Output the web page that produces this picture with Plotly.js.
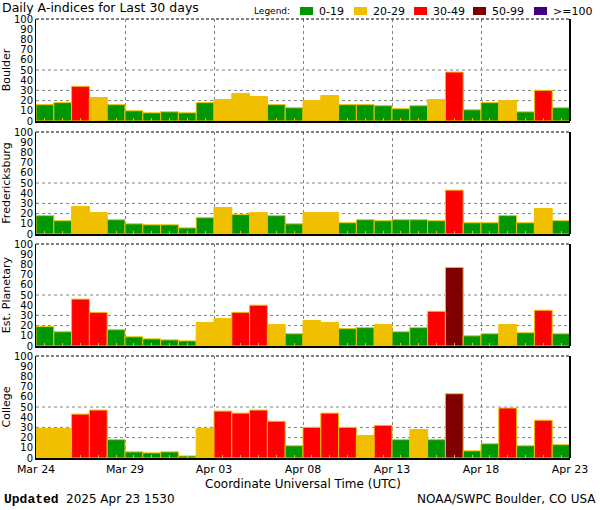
<!DOCTYPE html>
<html>
<head>
<meta charset="utf-8">
<script src="https://cdn.plot.ly/plotly-3.0.1.min.js"></script>
<style>html,body{margin:0;padding:0;background:#fff;}#chart{width:600px;height:510px;}</style>
</head>
<body>
<div id="chart"></div>
<script>
// ---- data ----
const dates = ['2025-03-24','2025-03-25','2025-03-26','2025-03-27','2025-03-28','2025-03-29','2025-03-30','2025-03-31',
  '2025-04-01','2025-04-02','2025-04-03','2025-04-04','2025-04-05','2025-04-06','2025-04-07','2025-04-08','2025-04-09',
  '2025-04-10','2025-04-11','2025-04-12','2025-04-13','2025-04-14','2025-04-15','2025-04-16','2025-04-17','2025-04-18',
  '2025-04-19','2025-04-20','2025-04-21','2025-04-22'];
const boulder        = [16,18,34,23,16,10,8,9,8,18,21,27,24,16,13,20,25,16,16,15,12,15,21,48,11,18,20,9,30,13];
const fredericksburg = [18,13,27,21,14,10,9,9,6,16,26,19,21,18,10,21,21,11,14,13,14,14,13,43,11,11,18,11,25,13];
const planetary      = [19,14,46,33,16,9,7,6,5,23,27,33,40,21,12,25,23,17,18,21,14,18,34,77,10,12,21,13,35,12];
const college        = [29,29,43,47,18,6,5,6,2,29,46,44,47,36,12,30,44,30,22,32,18,28,18,63,7,14,49,12,37,13];
const stationNames = ['Boulder','Fredericksburg','Est. Planetary','College'];
const tickDates  = ['2025-03-24','2025-03-29','2025-04-03','2025-04-08','2025-04-13','2025-04-18','2025-04-23'];
const tickLabels = ['Mar 24','Mar 29','Apr 03','Apr 08','Apr 13','Apr 18','Apr 23'];
const yTicks = [0,10,20,30,40,50,60,70,80,90,100];
const legendLabels = ['0-19','20-29','30-49','50-99','>=100'];
const legendColors = ['#009600','#f0c000','#ff0000','#800000','#400080'];
const legendLimits = [20,30,50,100,Infinity];
const gridLevels = [20,30,50];

// ---- layout geometry ----
const W = 600, H = 510, L = 36, R = 30, T = 19, B = 52;
const PW = W - L - R, PH = H - T - B;
const px = v => (v - L) / PW;
const py = v => (H - B - v) / PH;
const panelPx = [[19,121],[132,234],[244,346],[356,458]];
const seriesList = [boulder, fredericksburg, planetary, college];
const FONT = 'DejaVu Sans, sans-serif';

function colorFor(v){
  for (let i = 0; i < legendLimits.length; i++) if (v < legendLimits[i]) return legendColors[i];
  return legendColors[legendColors.length-1];
}

const traces = [];
const layout = {
  width: W, height: H,
  margin: {l: L, r: R, t: T, b: B, pad: 0},
  paper_bgcolor: '#ffffff', plot_bgcolor: '#ffffff',
  showlegend: false, bargap: 0,
  font: {family: FONT, color: '#000', size: 11},
  shapes: [], annotations: []
};

seriesList.forEach((vals, i) => {
  const n = i + 1;
  const xid = n === 1 ? 'x' : 'x' + n;
  const yid = n === 1 ? 'y' : 'y' + n;
  traces.push({
    type: 'bar', x: dates, y: vals, xaxis: xid, yaxis: yid,
    xperiod: 86400000, xperiodalignment: 'middle', width: 86400000,
    marker: {color: vals.map(colorFor), line: {color: '#f0c000', width: 1}},
    hoverinfo: 'x+y'
  });
  const [tp, bp] = panelPx[i];
  layout['xaxis' + (n === 1 ? '' : n)] = {
    type: 'date', anchor: yid, domain: [0, 1],
    range: ['2025-03-24', '2025-04-23'],
    tickmode: 'array', tickvals: tickDates, ticktext: tickLabels,
    showticklabels: n === 4, ticks: '',
    tickfont: {family: FONT, size: 11, color: '#000'},
    showgrid: true, gridcolor: '#808080', griddash: 'dot', gridwidth: 1,
    showline: true, linecolor: '#000', linewidth: 2,
    zeroline: false, fixedrange: true,
    minor: {tick0: '2025-03-24 12:00', dtick: 86400000, ticks: 'inside', ticklen: 3,
            tickcolor: '#f0c000', tickwidth: 1, showgrid: false},
    title: n === 4 ? {text: 'Coordinate Universal Time (UTC)', font: {family: FONT, size: 12, color: '#000'}, standoff: 4} : {text: ''}
  };
  layout['yaxis' + (n === 1 ? '' : n)] = {
    anchor: xid, domain: [py(bp), py(tp)], range: [0, 100],
    tickmode: 'array', tickvals: yTicks,
    ticks: '', showgrid: false, zeroline: false,
    showline: true, linecolor: '#000', linewidth: 1,
    tickfont: {family: FONT, size: 10, color: '#000'},
    fixedrange: true,
    title: {text: stationNames[i], font: {family: FONT, size: 11, color: '#000'}}
  };
  gridLevels.forEach(g => layout.shapes.push({
    type: 'line', layer: 'below', xref: xid + ' domain', yref: yid, x0: 0, x1: 1, y0: g, y1: g,
    line: {color: '#808080', width: 1, dash: 'dot'}
  }));
  layout.shapes.push({type: 'line', xref: xid + ' domain', yref: yid + ' domain', x0: 0, x1: 1, y0: 1, y1: 1,
    line: {color: '#000', width: 1, dash: '3px,2px'}});
  layout.shapes.push({type: 'line', xref: xid + ' domain', yref: yid + ' domain', x0: 1, x1: 1, y0: 0, y1: 1,
    line: {color: '#000', width: 2}});
});

// title & legend
layout.annotations.push({xref: 'paper', yref: 'paper', x: px(1), y: py(7.5), xanchor: 'left', yanchor: 'middle',
  text: 'Daily A-indices for Last 30 days', showarrow: false, borderpad: 0,
  font: {family: FONT, size: 12.5, color: '#000'}});
layout.annotations.push({xref: 'paper', yref: 'paper', x: px(252), y: py(11), xanchor: 'left', yanchor: 'middle',
  text: 'Legend:', showarrow: false, font: {family: FONT, size: 9, color: '#000'}});
const boxStarts = [300, 354, 414, 473, 534];
legendLabels.forEach((lab, k) => {
  const x0 = boxStarts[k];
  layout.shapes.push({type: 'rect', xref: 'paper', yref: 'paper', x0: px(x0), x1: px(x0 + 13), y0: py(15), y1: py(7),
    fillcolor: legendColors[k], line: {width: 0}});
  layout.annotations.push({xref: 'paper', yref: 'paper', x: px(x0 + 17), y: py(11), xanchor: 'left', yanchor: 'middle',
    text: lab, showarrow: false, font: {family: FONT, size: 11, color: '#000'}});
});
// footer
layout.annotations.push({xref: 'paper', yref: 'paper', x: px(2), y: py(499), xanchor: 'left', yanchor: 'middle',
  text: '<b>Updated</b>', showarrow: false, font: {family: 'Liberation Mono, monospace', size: 13, color: '#000'}});
layout.annotations.push({xref: 'paper', yref: 'paper', x: px(64), y: py(499), xanchor: 'left', yanchor: 'middle',
  text: '2025 Apr 23 1530', showarrow: false, font: {family: FONT, size: 12, color: '#000'}});
layout.annotations.push({xref: 'paper', yref: 'paper', x: px(598), y: py(499), xanchor: 'right', yanchor: 'middle',
  text: 'NOAA/SWPC Boulder, CO USA', showarrow: false, font: {family: FONT, size: 12, color: '#000'}});

Plotly.newPlot('chart', traces, layout, {staticPlot: true, displayModeBar: false});
</script>
</body>
</html>
